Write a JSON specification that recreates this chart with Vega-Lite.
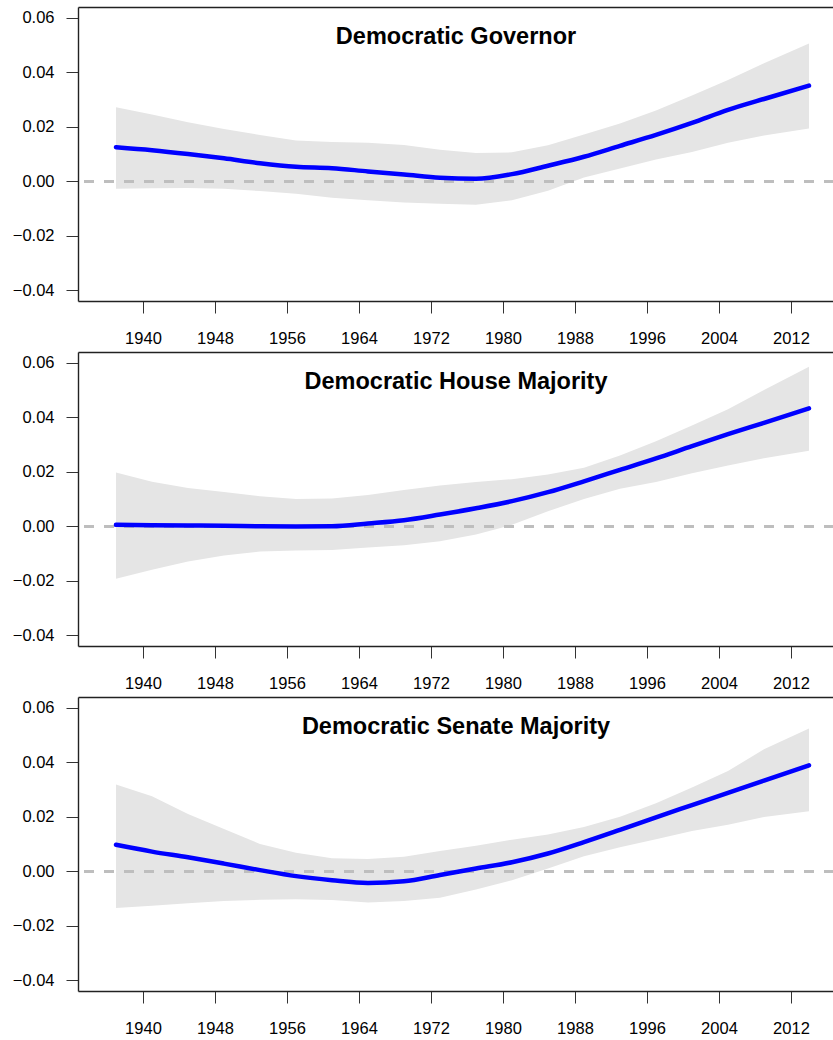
{
  "$schema": "https://vega.github.io/schema/vega-lite/v6.json",
  "background": "white",
  "padding": {"left": 12, "top": 7, "right": 0, "bottom": 0},
  "bounds": "flush",
  "spacing": 51,
  "config": {
    "view": {"stroke": null},
    "font": "Liberation Sans",
    "axis": {
      "labelFont": "Liberation Sans",
      "labelFontSize": 16.5,
      "labelColor": "black",
      "tickColor": "#333333",
      "tickWidth": 1,
      "domainColor": "#222222",
      "domainWidth": 1.4,
      "grid": false
    },
    "title": {
      "font": "Liberation Sans",
      "fontSize": 23.5,
      "fontWeight": "bold",
      "color": "black",
      "anchor": "middle",
      "baseline": "alphabetic",
      "offset": -41
    }
  },
  "datasets": {
    "fits": [
      {"panel": "Governor", "year": 1937, "lo": -0.0028, "fit": 0.0125, "hi": 0.0272},
      {"panel": "Governor", "year": 1941, "lo": -0.0026, "fit": 0.0114, "hi": 0.0245},
      {"panel": "Governor", "year": 1945, "lo": -0.0025, "fit": 0.0100, "hi": 0.0217},
      {"panel": "Governor", "year": 1949, "lo": -0.0028, "fit": 0.0084, "hi": 0.0192},
      {"panel": "Governor", "year": 1953, "lo": -0.0036, "fit": 0.0066, "hi": 0.0170},
      {"panel": "Governor", "year": 1957, "lo": -0.0046, "fit": 0.0053, "hi": 0.0150},
      {"panel": "Governor", "year": 1961, "lo": -0.0061, "fit": 0.0048, "hi": 0.0144},
      {"panel": "Governor", "year": 1965, "lo": -0.0070, "fit": 0.0036, "hi": 0.0141},
      {"panel": "Governor", "year": 1969, "lo": -0.0078, "fit": 0.0025, "hi": 0.0133},
      {"panel": "Governor", "year": 1973, "lo": -0.0083, "fit": 0.0013, "hi": 0.0116},
      {"panel": "Governor", "year": 1977, "lo": -0.0086, "fit": 0.0009, "hi": 0.0104},
      {"panel": "Governor", "year": 1981, "lo": -0.0070, "fit": 0.0026, "hi": 0.0106},
      {"panel": "Governor", "year": 1985, "lo": -0.0035, "fit": 0.0057, "hi": 0.0132},
      {"panel": "Governor", "year": 1989, "lo": 0.0014, "fit": 0.0090, "hi": 0.0172},
      {"panel": "Governor", "year": 1993, "lo": 0.0047, "fit": 0.0130, "hi": 0.0212},
      {"panel": "Governor", "year": 1997, "lo": 0.0080, "fit": 0.0170, "hi": 0.0260},
      {"panel": "Governor", "year": 2001, "lo": 0.0107, "fit": 0.0214, "hi": 0.0315},
      {"panel": "Governor", "year": 2005, "lo": 0.0141, "fit": 0.0262, "hi": 0.0372},
      {"panel": "Governor", "year": 2009, "lo": 0.0168, "fit": 0.0302, "hi": 0.0433},
      {"panel": "Governor", "year": 2014, "lo": 0.0194, "fit": 0.0351, "hi": 0.0506},

      {"panel": "House", "year": 1937, "lo": -0.0193, "fit": 0.0005, "hi": 0.0197},
      {"panel": "House", "year": 1941, "lo": -0.0160, "fit": 0.0004, "hi": 0.0163},
      {"panel": "House", "year": 1945, "lo": -0.0130, "fit": 0.0003, "hi": 0.0140},
      {"panel": "House", "year": 1949, "lo": -0.0108, "fit": 0.0002, "hi": 0.0126},
      {"panel": "House", "year": 1953, "lo": -0.0093, "fit": 0.0000, "hi": 0.0110},
      {"panel": "House", "year": 1957, "lo": -0.0089, "fit": -0.0001, "hi": 0.0100},
      {"panel": "House", "year": 1961, "lo": -0.0087, "fit": 0.0000, "hi": 0.0102},
      {"panel": "House", "year": 1965, "lo": -0.0078, "fit": 0.0010, "hi": 0.0115},
      {"panel": "House", "year": 1969, "lo": -0.0070, "fit": 0.0022, "hi": 0.0133},
      {"panel": "House", "year": 1973, "lo": -0.0055, "fit": 0.0043, "hi": 0.0150},
      {"panel": "House", "year": 1977, "lo": -0.0030, "fit": 0.0066, "hi": 0.0162},
      {"panel": "House", "year": 1981, "lo": 0.0005, "fit": 0.0092, "hi": 0.0173},
      {"panel": "House", "year": 1985, "lo": 0.0055, "fit": 0.0125, "hi": 0.0190},
      {"panel": "House", "year": 1989, "lo": 0.0100, "fit": 0.0165, "hi": 0.0215},
      {"panel": "House", "year": 1993, "lo": 0.0138, "fit": 0.0207, "hi": 0.0260},
      {"panel": "House", "year": 1997, "lo": 0.0162, "fit": 0.0249, "hi": 0.0312},
      {"panel": "House", "year": 2001, "lo": 0.0195, "fit": 0.0294, "hi": 0.0370},
      {"panel": "House", "year": 2005, "lo": 0.0223, "fit": 0.0338, "hi": 0.0430},
      {"panel": "House", "year": 2009, "lo": 0.0250, "fit": 0.0380, "hi": 0.0500},
      {"panel": "House", "year": 2014, "lo": 0.0277, "fit": 0.0433, "hi": 0.0586},

      {"panel": "Senate", "year": 1937, "lo": -0.0135, "fit": 0.0097, "hi": 0.0319},
      {"panel": "Senate", "year": 1941, "lo": -0.0127, "fit": 0.0072, "hi": 0.0275},
      {"panel": "Senate", "year": 1945, "lo": -0.0118, "fit": 0.0051, "hi": 0.0210},
      {"panel": "Senate", "year": 1949, "lo": -0.0109, "fit": 0.0028, "hi": 0.0155},
      {"panel": "Senate", "year": 1953, "lo": -0.0105, "fit": 0.0004, "hi": 0.0100},
      {"panel": "Senate", "year": 1957, "lo": -0.0103, "fit": -0.0018, "hi": 0.0068},
      {"panel": "Senate", "year": 1961, "lo": -0.0106, "fit": -0.0033, "hi": 0.0048},
      {"panel": "Senate", "year": 1965, "lo": -0.0115, "fit": -0.0043, "hi": 0.0045},
      {"panel": "Senate", "year": 1969, "lo": -0.0109, "fit": -0.0037, "hi": 0.0053},
      {"panel": "Senate", "year": 1973, "lo": -0.0097, "fit": -0.0014, "hi": 0.0074},
      {"panel": "Senate", "year": 1977, "lo": -0.0067, "fit": 0.0010, "hi": 0.0094},
      {"panel": "Senate", "year": 1981, "lo": -0.0033, "fit": 0.0033, "hi": 0.0116},
      {"panel": "Senate", "year": 1985, "lo": 0.0010, "fit": 0.0065, "hi": 0.0135},
      {"panel": "Senate", "year": 1989, "lo": 0.0055, "fit": 0.0107, "hi": 0.0162},
      {"panel": "Senate", "year": 1993, "lo": 0.0088, "fit": 0.0152, "hi": 0.0200},
      {"panel": "Senate", "year": 1997, "lo": 0.0117, "fit": 0.0198, "hi": 0.0250},
      {"panel": "Senate", "year": 2001, "lo": 0.0148, "fit": 0.0243, "hi": 0.0308},
      {"panel": "Senate", "year": 2005, "lo": 0.0171, "fit": 0.0288, "hi": 0.0368},
      {"panel": "Senate", "year": 2009, "lo": 0.0199, "fit": 0.0333, "hi": 0.0448},
      {"panel": "Senate", "year": 2014, "lo": 0.0220, "fit": 0.0389, "hi": 0.0524}
    ]
  },
  "vconcat": [
    {
      "title": "Democratic Governor",
      "width": 756,
      "height": 294,
      "data": {"name": "fits"},
      "transform": [{"filter": "datum.panel === 'Governor'"}],
      "resolve": {"axis": {"x": "independent"}},
      "layer": [
        {
          "mark": {"type": "area", "color": "#E5E5E5"},
          "encoding": {
            "x": {"field": "year", "type": "quantitative", "title": null, "scale": {"domain": [1932.78, 2016.78], "nice": false, "zero": false},
                  "axis": {"orient": "bottom", "values": [1940, 1948, 1956, 1964, 1972, 1980, 1988, 1996, 2004, 2012], "format": "d", "tickSize": 12, "labelPadding": 17}},
            "y": {"field": "lo", "type": "quantitative", "title": null, "scale": {"domain": [-0.044, 0.064], "nice": false, "zero": false},
                  "axis": {"values": [-0.04, -0.02, 0, 0.02, 0.04, 0.06], "format": ".2f", "tickSize": 12, "labelPadding": 12}},
            "y2": {"field": "hi"}
          }
        },
        {
          "mark": {"type": "rule", "color": "#BEBEBE", "strokeWidth": 2.5, "strokeDash": [10, 10]},
          "encoding": {"y": {"datum": 0, "type": "quantitative", "title": null,
                  "axis": {"values": [-0.04, -0.02, 0, 0.02, 0.04, 0.06], "format": ".2f", "tickSize": 12, "labelPadding": 12}}}
        },
        {
          "mark": {"type": "line", "color": "#0000FF", "strokeWidth": 4.5, "strokeCap": "round", "interpolate": "monotone"},
          "encoding": {
            "x": {"field": "year", "type": "quantitative", "title": null, "axis": {"orient": "top", "labels": false, "ticks": false, "domain": true}},
            "y": {"field": "fit", "type": "quantitative", "title": null,
                  "axis": {"values": [-0.04, -0.02, 0, 0.02, 0.04, 0.06], "format": ".2f", "tickSize": 12, "labelPadding": 12}}
          }
        }
      ]
    },
    {
      "title": "Democratic House Majority",
      "width": 756,
      "height": 294,
      "data": {"name": "fits"},
      "transform": [{"filter": "datum.panel === 'House'"}],
      "resolve": {"axis": {"x": "independent"}},
      "layer": [
        {
          "mark": {"type": "area", "color": "#E5E5E5"},
          "encoding": {
            "x": {"field": "year", "type": "quantitative", "title": null, "scale": {"domain": [1932.78, 2016.78], "nice": false, "zero": false},
                  "axis": {"orient": "bottom", "values": [1940, 1948, 1956, 1964, 1972, 1980, 1988, 1996, 2004, 2012], "format": "d", "tickSize": 12, "labelPadding": 17}},
            "y": {"field": "lo", "type": "quantitative", "title": null, "scale": {"domain": [-0.044, 0.064], "nice": false, "zero": false},
                  "axis": {"values": [-0.04, -0.02, 0, 0.02, 0.04, 0.06], "format": ".2f", "tickSize": 12, "labelPadding": 12}},
            "y2": {"field": "hi"}
          }
        },
        {
          "mark": {"type": "rule", "color": "#BEBEBE", "strokeWidth": 2.5, "strokeDash": [10, 10]},
          "encoding": {"y": {"datum": 0, "type": "quantitative", "title": null,
                  "axis": {"values": [-0.04, -0.02, 0, 0.02, 0.04, 0.06], "format": ".2f", "tickSize": 12, "labelPadding": 12}}}
        },
        {
          "mark": {"type": "line", "color": "#0000FF", "strokeWidth": 4.5, "strokeCap": "round", "interpolate": "monotone"},
          "encoding": {
            "x": {"field": "year", "type": "quantitative", "title": null, "axis": {"orient": "top", "labels": false, "ticks": false, "domain": true}},
            "y": {"field": "fit", "type": "quantitative", "title": null,
                  "axis": {"values": [-0.04, -0.02, 0, 0.02, 0.04, 0.06], "format": ".2f", "tickSize": 12, "labelPadding": 12}}
          }
        }
      ]
    },
    {
      "title": "Democratic Senate Majority",
      "width": 756,
      "height": 294,
      "data": {"name": "fits"},
      "transform": [{"filter": "datum.panel === 'Senate'"}],
      "resolve": {"axis": {"x": "independent"}},
      "layer": [
        {
          "mark": {"type": "area", "color": "#E5E5E5"},
          "encoding": {
            "x": {"field": "year", "type": "quantitative", "title": null, "scale": {"domain": [1932.78, 2016.78], "nice": false, "zero": false},
                  "axis": {"orient": "bottom", "values": [1940, 1948, 1956, 1964, 1972, 1980, 1988, 1996, 2004, 2012], "format": "d", "tickSize": 12, "labelPadding": 17}},
            "y": {"field": "lo", "type": "quantitative", "title": null, "scale": {"domain": [-0.044, 0.064], "nice": false, "zero": false},
                  "axis": {"values": [-0.04, -0.02, 0, 0.02, 0.04, 0.06], "format": ".2f", "tickSize": 12, "labelPadding": 12}},
            "y2": {"field": "hi"}
          }
        },
        {
          "mark": {"type": "rule", "color": "#BEBEBE", "strokeWidth": 2.5, "strokeDash": [10, 10]},
          "encoding": {"y": {"datum": 0, "type": "quantitative", "title": null,
                  "axis": {"values": [-0.04, -0.02, 0, 0.02, 0.04, 0.06], "format": ".2f", "tickSize": 12, "labelPadding": 12}}}
        },
        {
          "mark": {"type": "line", "color": "#0000FF", "strokeWidth": 4.5, "strokeCap": "round", "interpolate": "monotone"},
          "encoding": {
            "x": {"field": "year", "type": "quantitative", "title": null, "axis": {"orient": "top", "labels": false, "ticks": false, "domain": true}},
            "y": {"field": "fit", "type": "quantitative", "title": null,
                  "axis": {"values": [-0.04, -0.02, 0, 0.02, 0.04, 0.06], "format": ".2f", "tickSize": 12, "labelPadding": 12}}
          }
        }
      ]
    }
  ]
}
